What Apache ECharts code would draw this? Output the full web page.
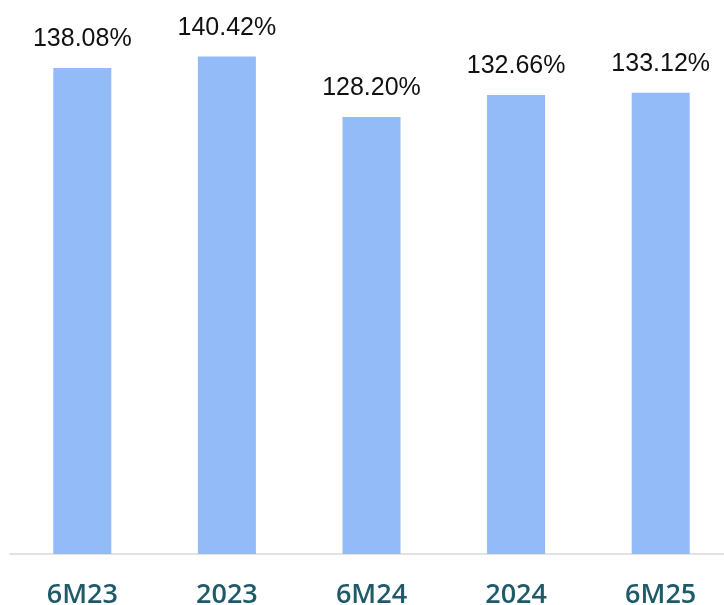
<!DOCTYPE html>
<html>
<head>
<meta charset="utf-8">
<script src="https://cdn.jsdelivr.net/npm/echarts@6/dist/echarts.min.js"></script>
<style>
  html, body { margin: 0; padding: 0; background: #fff; }
  #chart { width: 724px; height: 605px; }
</style>
</head>
<body>
<div id="chart"></div>
<script>
const categories = ['6M23', '2023', '6M24', '2024', '6M25']
const ratios = [138.08, 140.42, 128.20, 132.66, 133.12]

const chart = echarts.init(document.getElementById('chart'))

chart.setOption({
  animation: false,
  grid: { left: 10, width: 723, top: 9, height: 545, outerBoundsMode: 'none' },
  xAxis: {
    type: 'category',
    data: categories,
    axisLine: { lineStyle: { color: '#d9d9d9', width: 1.5 } },
    axisTick: { show: false },
    axisLabel: {
      margin: 28,
      color: '#1f5a69',
      fontSize: 27,
      fontWeight: 600,
      fontFamily: 'Open Sans'
    }
  },
  yAxis: {
    type: 'value',
    min: 40,
    max: 150,
    show: false,
    splitLine: { show: false }
  },
  series: [{
    type: 'bar',
    data: ratios,
    barWidth: 58,
    itemStyle: { color: '#92bbf8' },
    label: {
      show: true,
      position: 'top',
      distance: 16,
      color: '#111',
      fontSize: 25,
      fontFamily: 'Liberation Sans',
      formatter: (p) => p.value.toFixed(2) + '%'
    }
  }]
})
</script>
</body>
</html>
